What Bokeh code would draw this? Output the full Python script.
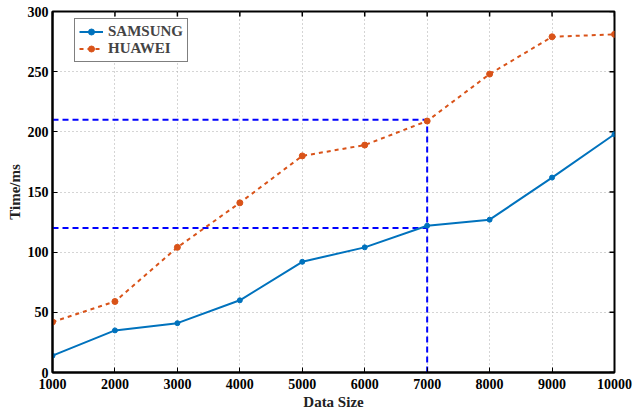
import math
from bokeh.plotting import figure
from bokeh.models import Range1d, FixedTicker, Legend, LegendItem
from bokeh.embed import file_html
from bokeh.resources import INLINE

data_size = [1000, 2000, 3000, 4000, 5000, 6000, 7000, 8000, 9000, 10000]
samsung = [14, 35, 41, 60, 92, 104, 122, 127, 162, 198]
huawei = [42, 59, 104, 141, 180, 189, 209, 248, 279, 281]
ref_x = 7000
ref_y_huawei = 210
ref_y_samsung = 120
x_ticks = [1000, 2000, 3000, 4000, 5000, 6000, 7000, 8000, 9000, 10000]
y_ticks = [0, 50, 100, 150, 200, 250, 300]

FONT = "Liberation Serif"
X0, X1, Y0, Y1 = 1000, 10000, 0, 300

p = figure(width=634, height=415, output_backend="svg", toolbar_location=None,
           x_range=Range1d(X0, X1), y_range=Range1d(Y0, Y1),
           min_border_left=52, min_border_right=20, min_border_top=11, min_border_bottom=43)

p.outline_line_color = "black"
p.outline_line_width = 2
p.outline_line_alpha = 1

for ax in (p.xaxis[0], p.yaxis[0]):
    ax.axis_line_width = 2
    ax.major_tick_in = 5
    ax.major_tick_out = 0
    ax.minor_tick_in = 0
    ax.minor_tick_out = 0
    ax.major_label_text_font = FONT
    ax.major_label_text_font_style = "bold"
    ax.major_label_text_font_size = "14px"
    ax.major_label_text_color = "black"
    ax.axis_label_text_font = FONT
    ax.axis_label_text_font_style = "bold"
    ax.axis_label_text_font_size = "15px"
    ax.axis_label_text_color = "#222222"
    ax.axis_label_standoff = 2

p.xaxis.major_label_standoff = 6
p.yaxis.major_label_standoff = 4

p.xaxis.ticker = FixedTicker(ticks=x_ticks)
p.yaxis.ticker = FixedTicker(ticks=y_ticks)
p.xaxis.axis_label = "Data Size"
p.yaxis.axis_label = "Time/ms"

# inward ticks on the right and top edges of the box
p.ray(x=[X1] * len(y_ticks), y=y_ticks, length=5, length_units="screen",
      angle=math.pi, line_color="black", line_width=1.5)
p.ray(x=x_ticks, y=[Y1] * len(x_ticks), length=5, length_units="screen",
      angle=-math.pi / 2, line_color="black", line_width=1.5)

p.xgrid.ticker = FixedTicker(ticks=x_ticks)
p.ygrid.ticker = FixedTicker(ticks=y_ticks)
for g in (p.xgrid[0], p.ygrid[0]):
    g.grid_line_color = "#aaaaaa"
    g.grid_line_dash = "1 3"
    g.grid_line_width = 1

blue = "#0000FF"
p.line([data_size[0], ref_x], [ref_y_huawei, ref_y_huawei], line_color=blue, line_width=2, line_dash="6 4")
p.line([data_size[0], ref_x], [ref_y_samsung, ref_y_samsung], line_color=blue, line_width=2, line_dash="6 4")
p.line([ref_x, ref_x], [Y0, ref_y_huawei], line_color=blue, line_width=2, line_dash="6 4")

c1 = "#0072BD"
c2 = "#D95319"
l1 = p.line(data_size, samsung, line_color=c1, line_width=2)
m1 = p.scatter(data_size, samsung, size=5, fill_color=c1, line_color=c1)
l2 = p.line(data_size, huawei, line_color=c2, line_width=2, line_dash="4 4")
m2 = p.scatter(data_size, huawei, size=6, fill_color=c2, line_color=c2)

legend = Legend(items=[LegendItem(label="SAMSUNG", renderers=[l1, m1]),
                       LegendItem(label="HUAWEI", renderers=[l2, m2])],
                location=(22, 310))
legend.label_text_font = FONT
legend.label_text_font_style = "bold"
legend.label_text_font_size = "15px"
legend.border_line_color = "black"
legend.border_line_width = 1.5
legend.margin = 0
legend.padding = 4
legend.spacing = 0
legend.glyph_width = 24
legend.glyph_height = 15
legend.label_height = 15
legend.label_width = 71
legend.label_standoff = 5
legend.background_fill_alpha = 1
p.add_layout(legend)

open("out.html", "w").write(file_html(p, INLINE))
